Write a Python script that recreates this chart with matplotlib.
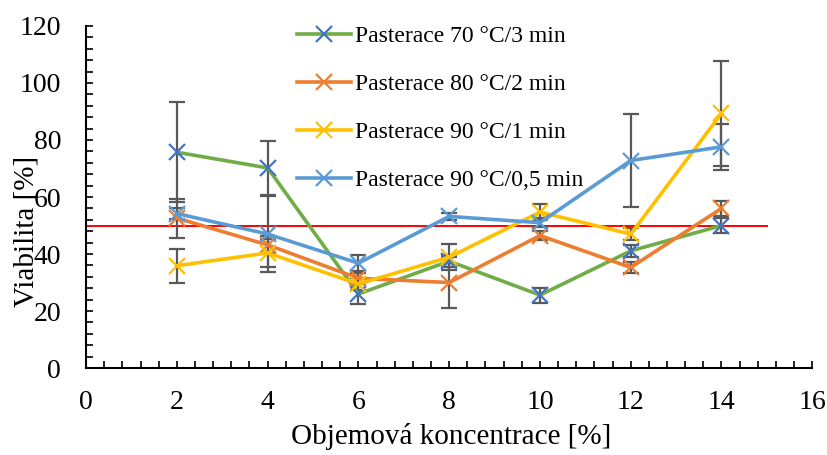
import matplotlib
matplotlib.use("Agg")
import matplotlib.pyplot as plt
from matplotlib.ticker import MultipleLocator

# koncentrace
x = [2, 4, 6, 8, 10, 12, 14]

labels = ["Pasterace 70 °C/3 min", "Pasterace 80 °C/2 min",
          "Pasterace 90 °C/1 min", "Pasterace 90 °C/0,5 min"]

p70 = [75.7, 70.2, 26.0, 37.5, 25.6, 41.1, 50.0]
p80 = [52.6, 43.2, 31.5, 30.0, 46.5, 35.3, 56.0]
p90_1 = [35.9, 40.4, 29.5, 38.9, 54.7, 47.0, 89.3]
p90_05 = [54.2, 47.0, 36.8, 53.2, 51.0, 72.8, 77.6]

err70 = [17.5, 9.5, 3.5, 2.0, 2.6, 2.0, 2.6]
err80 = [6.8, 3.0, 2.0, 9.0, 1.5, 2.0, 2.5]
err90_1 = [5.9, 5.0, 2.0, 4.6, 2.8, 2.0, 18.5]
err90_05 = [1.8, 13.3, 2.8, 1.3, 1.5, 16.3, 8.0]

# hranice 50 %
ref_x = [0, 15]
ref_y = [50, 50]

plt.rcParams['font.family'] = ['Liberation Serif', 'DejaVu Serif']

fig = plt.figure(figsize=(8.28, 4.55), dpi=100)
ax = fig.add_axes([0.104, 0.191, 0.877, 0.752])

series = [
    (p70, err70, '#70AD47', '#4472C4'),
    (p80, err80, '#ED7D31', '#ED7D31'),
    (p90_1, err90_1, '#FFC000', '#FFC000'),
    (p90_05, err90_05, '#5B9BD5', '#5B9BD5'),
]

ax.plot(ref_x, ref_y, color='#FF0000', lw=1.4, zorder=1)

for (vals, err, col, mcol), lab in zip(series, labels):
    ax.errorbar(x, vals, yerr=err, fmt='none', ecolor='#595959',
                elinewidth=1.6, capsize=6, capthick=1.6, zorder=2)
    ax.plot(x, vals, color=col, lw=2.6, marker='x', markersize=11,
            markeredgewidth=1.6, markeredgecolor=mcol, label=lab, zorder=3)

ax.set_xlim(0, 16)
ax.set_ylim(0, 120)
ax.xaxis.set_major_locator(MultipleLocator(2))
ax.xaxis.set_minor_locator(MultipleLocator(0.4))
ax.yaxis.set_major_locator(MultipleLocator(20))
ax.yaxis.set_minor_locator(MultipleLocator(4))
ax.tick_params(which='both', direction='in', width=1.2, length=5, labelsize=20)
ax.tick_params(axis='x', pad=16)
ax.tick_params(axis='y', pad=18)

for s in ['top', 'right']:
    ax.spines[s].set_visible(False)
for s in ['left', 'bottom']:
    ax.spines[s].set_linewidth(1.5)

ax.set_xlabel("Objemová koncentrace [%]", fontsize=21)
ax.set_ylabel("Viabilita [%]", fontsize=21)
ax.xaxis.set_label_coords(0.503, -0.16)
ax.yaxis.set_label_coords(-0.064, 0.40)

ax.legend(loc='upper left', bbox_to_anchor=(0.274, 1.035), frameon=False,
          fontsize=17, handlelength=2.3, labelspacing=1.12, handletextpad=0.15,
          borderpad=0)

fig.savefig("out.png", dpi=100)
